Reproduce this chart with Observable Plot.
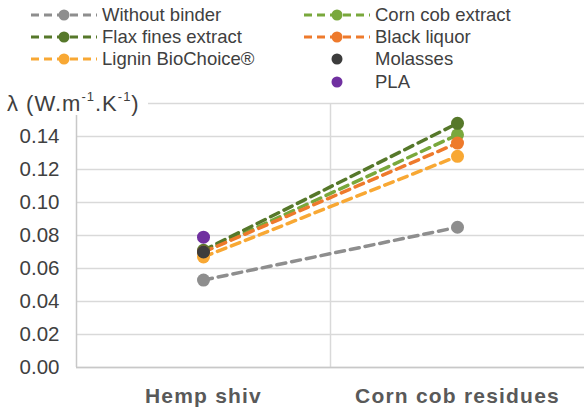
<!DOCTYPE html>
<html><head><meta charset="utf-8">
<script src="https://cdn.jsdelivr.net/npm/d3@7"></script>
<script src="https://cdn.jsdelivr.net/npm/@observablehq/plot@0.6"></script>
<style>
body{margin:0;background:#fff;font-family:"Liberation Sans",Arial,sans-serif;}
#wrap{position:relative;width:584px;height:410px;overflow:hidden;background:#fff;}
#legend{position:relative;height:95px;}
.item{position:absolute;display:flex;align-items:center;font-size:18.5px;color:#404040;line-height:22px;white-space:nowrap;}
.item svg{display:block;margin-right:5px;}
#ylabel{position:absolute;left:7px;top:93px;background:#fff;font-size:22px;line-height:22px;color:#404040;padding-right:8px;letter-spacing:1px;}
#ylabel sup{font-size:13px;position:relative;top:-3px;vertical-align:top;line-height:13px;}
#chart svg{display:block;}
g[aria-label="x-axis tick label"] text{letter-spacing:1.2px;}
</style></head>
<body><div id="wrap"><div id="legend"></div><div id="chart"></div><div id="ylabel">λ (W.m<sup>-1</sup>.K<sup>-1</sup>)</div></div>
<script>
const categories = ["Hemp shiv", "Corn cob residues"];
const seriesNames = ["Without binder", "Corn cob extract", "Flax fines extract", "Black liquor", "Lignin BioChoice®", "Molasses", "PLA"];
const hempValues = [0.053, 0.070, 0.071, 0.070, 0.067, 0.070, 0.079];
const cornValues = [0.085, 0.141, 0.148, 0.136, 0.128, null, null];
const seriesColors = ["#8e8e8e", "#79a83c", "#56782a", "#ee7a2c", "#f8a834", "#3c3c3c", "#7030a0"];
const dashedSeries = [true, true, true, true, true, false, false];
const yTicks = [0, 0.02, 0.04, 0.06, 0.08, 0.10, 0.12, 0.14];
const yGrid = [0, 0.02, 0.04, 0.06, 0.08, 0.10, 0.12, 0.14, 0.16];
const legendLeft = ["Without binder", "Flax fines extract", "Lignin BioChoice®"];
const legendRight = ["Corn cob extract", "Black liquor", "Molasses", "PLA"];

// rows
const rows = [];
seriesNames.forEach((s, i) => {
  rows.push({series: s, cat: 0, v: hempValues[i], i});
  if (cornValues[i] != null) rows.push({series: s, cat: 1, v: cornValues[i], i});
});
const lineRows = rows.filter(d => dashedSeries[d.i]);
const dividers = d3.range(categories.length - 1).map(i => i + 0.5);

const chart = Plot.plot({
  width: 584, height: 315,
  marginTop: 8, marginBottom: 43, marginLeft: 76, marginRight: 0,
  style: {fontFamily: "'Liberation Sans', Arial, sans-serif", background: "#fff", overflow: "visible"},
  x: {type: "linear", domain: [-0.5, categories.length - 0.5]},
  y: {domain: [0, 0.16]},
  color: {domain: seriesNames, range: seriesColors},
  marks: [
    Plot.gridY(yGrid, {stroke: "#d9d9d9", strokeOpacity: 1, strokeWidth: 1.5}),
    Plot.ruleX(dividers, {stroke: "#d9d9d9", strokeWidth: 1.5}),
    Plot.ruleX([-0.5], {y1: 0, y2: 0.16, stroke: "#c8c8c8", strokeWidth: 1.5}),
    Plot.ruleY([0], {stroke: "#c8c8c8", strokeWidth: 1.5}),
    Plot.axisY({ticks: yTicks, tickFormat: d3.format(".2f"), tickSize: 0, tickPadding: 17, fontSize: 20.5, fill: "#404040", label: null}),
    Plot.axisX({ticks: d3.range(categories.length), tickFormat: i => categories[i], tickSize: 0, tickPadding: 21, fontSize: 21, fontWeight: "bold", fill: "#595959", label: null}),
    Plot.line(lineRows, {x: "cat", y: "v", z: "series", stroke: "series", strokeWidth: 3.5, strokeDasharray: "9,6"}),
    Plot.dot(rows, {x: "cat", y: "v", fill: "series", r: 6.5})
  ]
});
document.getElementById("chart").appendChild(chart);

// legend
const legend = document.getElementById("legend");
function addItem(name, left, top) {
  const i = seriesNames.indexOf(name);
  const c = seriesColors[i];
  const div = document.createElement("div");
  div.className = "item";
  div.style.left = left + "px";
  div.style.top = top + "px";
  const sw = dashedSeries[i]
    ? `<svg width="66" height="14"><line x1="0" y1="7" x2="66" y2="7" stroke="${c}" stroke-width="3" stroke-dasharray="8,5"/><circle cx="33" cy="7" r="5.5" fill="${c}"/></svg>`
    : `<svg width="66" height="14"><circle cx="33" cy="7" r="5.5" fill="${c}"/></svg>`;
  div.innerHTML = sw + `<span>${name}</span>`;
  legend.appendChild(div);
}
legendLeft.forEach((n, r) => addItem(n, 31, 4 + r * 22.2));
legendRight.forEach((n, r) => addItem(n, 304, 4 + r * 22.2));
</script>
</body></html>
